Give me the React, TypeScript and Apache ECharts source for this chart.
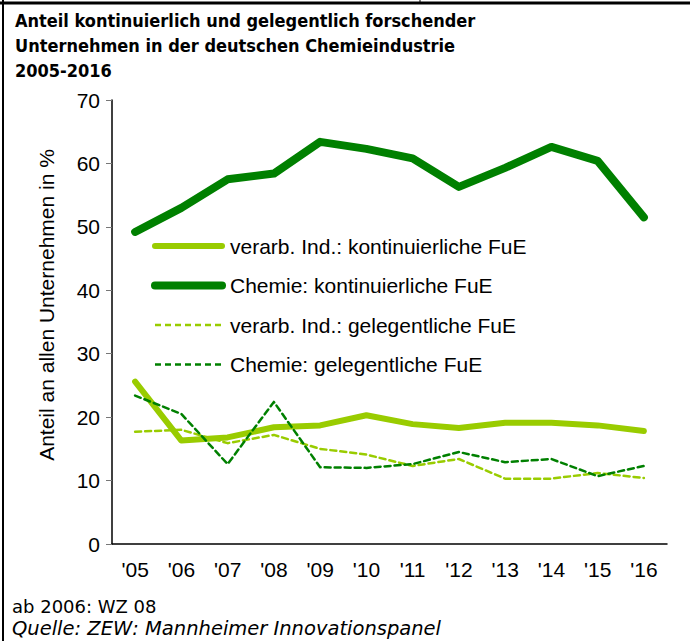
import React, { useEffect, useRef } from "react";
import * as echarts from "echarts";

const categories = ["'05", "'06", "'07", "'08", "'09", "'10", "'11", "'12", "'13", "'14", "'15", "'16"];
const verarbKont = [25.6, 16.3, 16.8, 18.4, 18.7, 20.3, 18.9, 18.3, 19.1, 19.1, 18.7, 17.8];
const chemieKont = [49.2, 53.0, 57.5, 58.4, 63.4, 62.3, 60.8, 56.3, 59.3, 62.6, 60.4, 51.5];
const verarbGel = [17.7, 18.0, 15.9, 17.2, 15.0, 14.1, 12.3, 13.4, 10.3, 10.3, 11.2, 10.4];
const chemieGel = [23.4, 20.5, 12.6, 22.4, 12.1, 12.0, 12.6, 14.5, 12.9, 13.4, 10.7, 12.3];
const seriesNames = [
  "verarb. Ind.: kontinuierliche FuE",
  "Chemie: kontinuierliche FuE",
  "verarb. Ind.: gelegentliche FuE",
  "Chemie: gelegentliche FuE",
];
const titleLines = [
  "Anteil kontinuierlich und gelegentlich forschender",
  "Unternehmen in der deutschen Chemieindustrie",
  "2005-2016",
];
const yAxisName = "Anteil an allen Unternehmen in %";
const footNote = "ab 2006: WZ 08";
const sourceNote = "Quelle: ZEW: Mannheimer Innovationspanel";

const LIGHT = "#99CC00";
const DARK = "#008000";
const ARIAL = "Liberation Sans, Arial, sans-serif";
const TITLEFONT = "DejaVu Sans Condensed, DejaVu Sans, sans-serif";
const FOOTFONT = "DejaVu Sans, Verdana, sans-serif";

const styles = [
  { color: LIGHT, width: 6, dashed: false },
  { color: DARK, width: 8, dashed: false },
  { color: LIGHT, width: 2.5, dashed: true },
  { color: DARK, width: 2.5, dashed: true },
];
const seriesData = [verarbKont, chemieKont, verarbGel, chemieGel];

export default function App() {
  const ref = useRef<HTMLDivElement>(null);
  useEffect(() => {
    if (!ref.current) return;
    const chart = echarts.init(ref.current, undefined, { renderer: "svg" });
    const series = seriesNames.map((name, i) => ({
      name,
      type: "line",
      data: seriesData[i],
      symbol: "none",
      showSymbol: false,
      lineStyle: {
        color: styles[i].color,
        width: styles[i].width,
        type: styles[i].dashed ? [6, 4] : "solid",
        cap: "round",
        join: "round",
      },
      itemStyle: { color: styles[i].color },
      z: styles[i].dashed ? 3 : 2,
    }));
    const legendTop = 246;
    const legendStep = 39.5;
    const legendGraphics: any[] = [];
    seriesNames.forEach((name, i) => {
      const y = legendTop + i * legendStep;
      legendGraphics.push({
        type: "line",
        shape: { x1: 155, y1: y, x2: 222, y2: y },
        style: {
          stroke: styles[i].color,
          lineWidth: styles[i].width,
          lineCap: styles[i].dashed ? "butt" : "round",
          lineDash: styles[i].dashed ? [6, 4] : null,
        },
      });
      legendGraphics.push({
        type: "text",
        x: 230,
        y,
        style: {
          text: name,
          fontFamily: ARIAL,
          fontSize: 21,
          fill: "#000",
          verticalAlign: "middle",
          align: "left",
        },
      });
    });
    chart.setOption({
      animation: false,
      backgroundColor: "#ffffff",
      title: {
        text: titleLines.join("\n"),
        left: 10,
        top: 3,
        textStyle: { fontFamily: TITLEFONT, fontWeight: "bold", fontSize: 18, lineHeight: 25, color: "#000" },
      },
      grid: { left: 112, right: 23, top: 100, bottom: 97 },
      xAxis: {
        type: "category",
        data: categories,
        boundaryGap: true,
        axisLine: { show: true, lineStyle: { color: "#000", width: 1.5 } },
        axisTick: { show: false },
        axisLabel: { fontFamily: ARIAL, fontSize: 21, color: "#000", margin: 15 },
      },
      yAxis: {
        type: "value",
        min: 0,
        max: 70,
        interval: 10,
        axisLine: { show: true, lineStyle: { color: "#000", width: 1.5 } },
        axisTick: { show: true, length: 6, lineStyle: { color: "#777" } },
        splitLine: { show: false },
        axisLabel: { fontFamily: ARIAL, fontSize: 21, color: "#000", margin: 12 },
      },
      series,
      graphic: [
        { type: "line", shape: { x1: 0, y1: 3, x2: 690, y2: 3 }, style: { stroke: "#000", lineWidth: 3 } },
        { type: "line", shape: { x1: 3, y1: 0, x2: 3, y2: 641 }, style: { stroke: "#000", lineWidth: 2 } },
        { type: "line", shape: { x1: 420, y1: 0, x2: 420, y2: 3 }, style: { stroke: "#000", lineWidth: 1 } },
        ...legendGraphics,
        {
          type: "text",
          x: 46,
          y: 305,
          rotation: Math.PI / 2,
          style: {
            text: yAxisName,
            fontFamily: ARIAL,
            fontSize: 21,
            fill: "#000",
            align: "center",
            verticalAlign: "middle",
          },
        },
        {
          type: "text",
          left: 12,
          top: 597,
          style: { text: footNote, fontFamily: FOOTFONT, fontSize: 18, fill: "#000" },
        },
        {
          type: "text",
          left: 12,
          top: 618,
          style: { text: sourceNote, fontFamily: FOOTFONT, fontStyle: "italic", fontSize: 19.5, fill: "#000" },
        },
      ],
    });
    return () => chart.dispose();
  }, []);
  return <div ref={ref} style={{ width: 690, height: 641, position: "absolute", left: 0, top: 0 }} />;
}
